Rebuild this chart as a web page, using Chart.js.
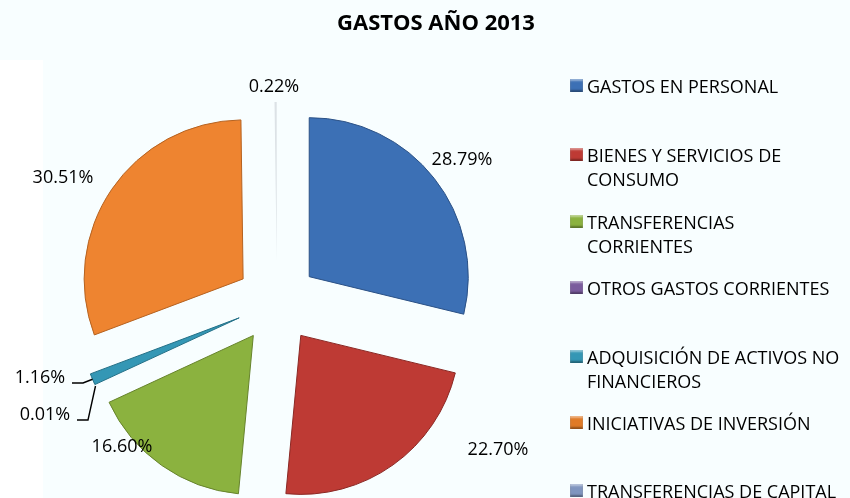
<!DOCTYPE html>
<html>
<head>
<meta charset="utf-8">
<script src="https://cdn.jsdelivr.net/npm/chart.js@4/dist/chart.umd.min.js"></script>
<style>
  html, body { margin: 0; padding: 0; background: #F8FEFF; }
  #wrap { position: relative; width: 850px; height: 498px; overflow: hidden; background: #F8FEFF; }
  #strip { position: absolute; left: 0; top: 60px; width: 43px; height: 438px; background: #FFFFFF; }
  #chart { position: absolute; left: 0; top: 0; }
  #title { position: absolute; left: 0; top: 6px; width: 872px; text-align: center;
           font: bold 22px 'Open Sans', sans-serif; color: #000; }
  .lg { position: absolute; left: 570px; font: 18px 'Open Sans', sans-serif; line-height: 24px; color: #000; }
  .lg i { position: absolute; left: 0; top: 5px; width: 13px; height: 13px; box-sizing: border-box;
          box-shadow: inset 0 2px 2px rgba(255,255,255,0.45), inset 0 -2px 2px rgba(0,0,0,0.35); }
  .lg span { position: absolute; left: 17px; top: 0; white-space: nowrap; }
</style>
</head>
<body>
<div id="wrap">
  <div id="strip"></div>
  <canvas id="chart" width="850" height="498"></canvas>
  <div id="title"></div>
  <div id="legend"></div>
</div>
<script>
// ---------- DATA ----------
const chartTitle = 'GASTOS AÑO 2013';
const categories = [
  ['GASTOS EN PERSONAL'],
  ['BIENES Y SERVICIOS DE', 'CONSUMO'],
  ['TRANSFERENCIAS', 'CORRIENTES'],
  ['OTROS GASTOS CORRIENTES'],
  ['ADQUISICIÓN DE ACTIVOS NO', 'FINANCIEROS'],
  ['INICIATIVAS DE INVERSIÓN'],
  ['TRANSFERENCIAS DE CAPITAL']
];
const percentages = [28.79, 22.70, 16.60, 0.01, 1.16, 30.51, 0.22];

// ---------- STYLE / LAYOUT ----------
const sliceColors  = ['#3C70B5', '#BE3A34', '#8BB23F', '#7A5B9D', '#3497B5', '#EE8430', '#DCE2E6'];
const borderColors = ['#2B5186', '#8A2824', '#66832C', '#594273', '#226F86', '#B56220', '#E2E7EA'];
const borderWidths = [1, 1, 1, 0, 1, 1, 0];
const legendColors = ['#3C70B5', '#BE3A34', '#8BB23F', '#7A5B9D', '#3497B5', '#E07A26', '#7F95BF'];
const legendTops   = [74, 143, 210, 276, 345, 411, 479];
const RADIUS = 159;
const EXPLODE = 41;
// label centres relative to the pie centre
const labelOffsets = [[185, -142], [221, 148], [-155, 145], [-232, 113], [-237, 76], [-214, -124], [-3, -215]];
// leader-line points (relative to pie centre), starting from slice tip
const leaders = { 3: [[-189, 118], [-200, 118]], 4: [[-194, 81], [-205, 81]] };

document.getElementById('title').textContent = chartTitle;
const lg = document.getElementById('legend');
categories.forEach((lines, i) => {
  const d = document.createElement('div');
  d.className = 'lg';
  d.style.top = legendTops[i] + 'px';
  const box = document.createElement('i');
  box.style.background = legendColors[i];
  const sp = document.createElement('span');
  sp.innerHTML = lines.map(s => s.replace(/&/g, '&amp;').replace(/</g, '&lt;')).join('<br>');
  d.appendChild(box); d.appendChild(sp);
  lg.appendChild(d);
});

// exploded arcs: translate each slice outward without enlarging it
const ArcEl = Chart.ArcElement || Chart.elements.ArcElement;
const baseDraw = ArcEl.prototype.draw;
ArcEl.prototype.draw = function (ctx) {
  const o = this.options;
  const ex = o.offset || 0;
  if (!ex) return baseDraw.call(this, ctx);
  const half = (this.startAngle + this.endAngle) / 2;
  ctx.save();
  ctx.translate(Math.cos(half) * ex, Math.sin(half) * ex);
  this.options = Object.assign({}, o, { offset: 0 });
  baseDraw.call(this, ctx);
  this.options = o;
  ctx.restore();
};

const pctLabels = {
  id: 'pctLabels',
  afterDatasetsDraw(chart) {
    const ctx = chart.ctx;
    const meta = chart.getDatasetMeta(0);
    ctx.save();
    ctx.font = '18px "Open Sans", sans-serif';
    ctx.fillStyle = '#000';
    ctx.textAlign = 'center';
    ctx.textBaseline = 'middle';
    meta.data.forEach((arc, i) => {
      const p = arc.getProps(['x', 'y', 'startAngle', 'endAngle', 'outerRadius'], true);
      const [dx, dy] = labelOffsets[i];
      ctx.fillText(percentages[i].toFixed(2) + '%', p.x + dx, p.y + dy);
      const lead = leaders[i];
      if (lead) {
        const mid = (p.startAngle + p.endAngle) / 2;
        const r = p.outerRadius + EXPLODE;
        ctx.beginPath();
        ctx.moveTo(p.x + Math.cos(mid) * r, p.y + Math.sin(mid) * r);
        lead.forEach(([lx, ly]) => ctx.lineTo(p.x + lx, p.y + ly));
        ctx.strokeStyle = '#000';
        ctx.lineWidth = 1.4;
        ctx.stroke();
      }
    });
    ctx.restore();
  }
};

new Chart(document.getElementById('chart'), {
  type: 'pie',
  data: {
    labels: categories.map(l => l.join(' ')),
    datasets: [{
      data: percentages,
      backgroundColor: sliceColors,
      borderColor: borderColors,
      borderWidth: borderWidths,
      offset: EXPLODE,
      radius: RADIUS
    }]
  },
  options: {
    responsive: false,
    animation: false,
    events: [],
    layout: { padding: { left: 0, right: 296, top: 106, bottom: 0 } },
    plugins: { legend: { display: false }, title: { display: false }, tooltip: { enabled: false } }
  },
  plugins: [pctLabels]
});
</script>
</body>
</html>
